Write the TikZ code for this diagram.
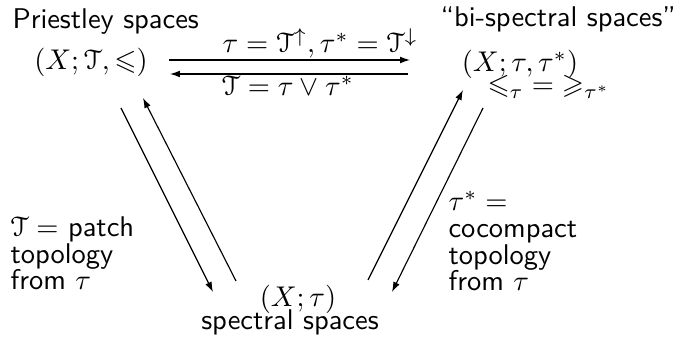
\documentclass[tikz,border=0pt]{standalone}
\usepackage{amsmath,amssymb}
\usepackage[mathcal]{eucal}
\usetikzlibrary{arrows.meta}
\begin{document}
\begin{tikzpicture}[x=0.35088pt,y=-0.35088pt,
  lbl/.style={inner sep=0pt, font=\sffamily},
  blk/.style={inner sep=0pt, align=left, font=\sffamily\fontsize{10}{9.4}\selectfont},
  arr/.style={-{Latex[length=3.5pt,width=2.4pt]}, line width=0.4pt}]
\useasboundingbox (0,0) rectangle (673,338);
% titles and spaces
\node[lbl,anchor=base west] (ptitle) at (12,29) {Priestley spaces};
\node[lbl,anchor=base] (pri) at (91,70) {$(X;\mathcal{T},\leqslant)$};
\node[lbl,anchor=base west] (bititle) at (440,27) {``bi-spectral spaces''};
\node[lbl,anchor=base] (bi) at (520,72) {$(X;\tau,\tau^*)$};
\node[lbl,anchor=base west] (birel) at (487,94) {$\leqslant_\tau{=}\geqslant_{\tau^*}$};
\node[lbl,anchor=base] (spec) at (298,307) {$(X;\tau)$};
\node[lbl,anchor=base] (spectitle) at (290,330) {spectral spaces};
% arrow labels
\node[lbl,anchor=base west] (toplbl) at (222,53) {$\tau=\mathcal{T}^{\uparrow},\tau^*=\mathcal{T}^{\downarrow}$};
\node[lbl,anchor=base] (botlbl) at (288,96) {$\mathcal{T}=\tau\vee\tau^*$};
\node[blk,anchor=base west] (lefttxt) at (10,290) {$\mathcal{T}=$ patch\\topology\\from $\tau$};
\node[blk,anchor=base west] (righttxt) at (448,291) {$\tau^*=$\\cocompact\\topology\\from $\tau$};
% connector end points
\coordinate (t1s) at (169,60); \coordinate (t1e) at (410,60);
\coordinate (t2s) at (408,74); \coordinate (t2e) at (170,74);
\coordinate (l1s) at (121,108); \coordinate (l1e) at (213,292);
\coordinate (l2s) at (236,281); \coordinate (l2e) at (143,98);
\coordinate (r1s) at (368,280); \coordinate (r1e) at (463,90);
\coordinate (r2s) at (483,108); \coordinate (r2e) at (392,292);
\draw[arr] (t1s) -- (t1e);
\draw[arr] (t2s) -- (t2e);
\draw[arr] (l1s) -- (l1e);
\draw[arr] (l2s) -- (l2e);
\draw[arr] (r1s) -- (r1e);
\draw[arr] (r2s) -- (r2e);
\end{tikzpicture}
\end{document}
